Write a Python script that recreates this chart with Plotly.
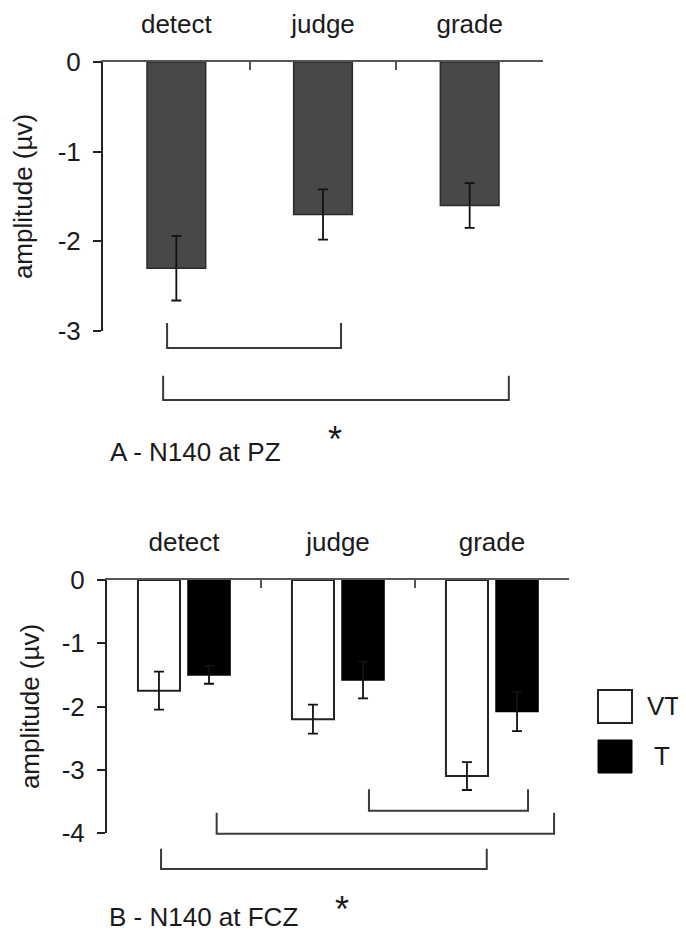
import plotly.graph_objects as go

# ---------------- data ----------------
conditions = ["detect", "judge", "grade"]
pz_mean = [-2.3, -1.7, -1.6]
pz_err = [0.36, 0.28, 0.25]
fcz_vt_mean = [-1.75, -2.2, -3.1]
fcz_vt_err = [0.30, 0.23, 0.22]
fcz_t_mean = [-1.5, -1.58, -2.08]
fcz_t_err = [0.14, 0.29, 0.31]
series_names = ["VT", "T"]
top_ticks = [0, -1, -2, -3]
top_ticktext = ["0", "-1", "-2", "-3"]
bottom_ticks = [0, -1, -2, -3, -4]
bottom_ticktext = ["0", "-1", "-2", "-3", "-4"]
caption_a = "A - N140 at PZ"
caption_b = "B - N140 at FCZ"

# ---------------- layout geometry ----------------
PAGE_W, PAGE_H = 686, 934
OFF = 8  # default page body margin
W, H = PAGE_W - OFF, PAGE_H - OFF
FONT = "Liberation Sans, Arial, sans-serif"
TXT = "#1a1a1a"


def fx(px):
    return (px - OFF) / W


def fy(py):
    return 1 - (py - OFF) / H


top_xdom = [fx(103), fx(543)]
top_ydom = [fy(331), fy(62)]
bot_xdom = [fx(107), fx(569)]
bot_ydom = [fy(833), fy(580)]
top_rng = [-3, 0]
bot_rng = [-4, 0]


def paper_y(v, dom, rng):
    return dom[0] + (v - rng[0]) / (rng[1] - rng[0]) * (dom[1] - dom[0])


fig = go.Figure()

fig.add_trace(go.Bar(
    x=conditions, y=pz_mean, width=0.4,
    marker=dict(color="#484848", line=dict(color="#2a2a2a", width=1.5)),
    error_y=dict(type="data", array=pz_err, color="#111111", thickness=1.8, width=5),
    xaxis="x", yaxis="y", showlegend=False,
))
fig.add_trace(go.Bar(
    name=series_names[0], x=conditions, y=fcz_vt_mean,
    marker=dict(color="white", line=dict(color="#222222", width=2)),
    error_y=dict(type="data", array=fcz_vt_err, color="#111111", thickness=1.8, width=5),
    xaxis="x2", yaxis="y2", showlegend=False,
))
fig.add_trace(go.Bar(
    name=series_names[1], x=conditions, y=fcz_t_mean,
    marker=dict(color="black", line=dict(color="black", width=1.5)),
    error_y=dict(type="data", array=fcz_t_err, color="#111111", thickness=1.8, width=5),
    xaxis="x2", yaxis="y2", showlegend=False,
))

xcommon = dict(
    type="category", side="top", range=[-0.5, 2.5], showline=True, automargin=False,
    linecolor="#555555", linewidth=2, ticks="inside", tickson="boundaries",
    ticklen=8, tickwidth=2, tickcolor="#555555", showgrid=False, zeroline=False,
    tickfont=dict(family=FONT, size=26, color=TXT), ticklabelstandoff=17,
)
ycommon = dict(
    showline=True, linecolor="#222222", linewidth=2, ticks="outside", ticklen=8,
    tickwidth=2, tickcolor="#222222", showgrid=False, zeroline=False, automargin=False,
    tickfont=dict(family=FONT, size=26, color=TXT), ticklabelstandoff=7,
)

fig.update_layout(
    template="none",
    width=W, height=H, autosize=False,
    margin=dict(l=0, r=0, t=0, b=0, pad=0, autoexpand=False),
    paper_bgcolor="white", plot_bgcolor="white",
    font=dict(family=FONT, size=26, color=TXT),
    barmode="group", bargap=0.35, bargroupgap=0.16,
    showlegend=False,
    xaxis=dict(domain=top_xdom, anchor="y", **xcommon),
    yaxis=dict(domain=top_ydom, anchor="x", range=top_rng, tickvals=top_ticks, ticktext=top_ticktext,
               title=dict(text="amplitude (µv)", font=dict(family=FONT, size=26, color=TXT), standoff=21),
               **ycommon),
    xaxis2=dict(domain=bot_xdom, anchor="y2", **xcommon),
    yaxis2=dict(domain=bot_ydom, anchor="x2", range=bot_rng, tickvals=bottom_ticks, ticktext=bottom_ticktext,
                title=dict(text="amplitude (µv)", font=dict(family=FONT, size=26, color=TXT), standoff=15),
                **ycommon),
)

# significance brackets (x in category units, y in amplitude units)
top_brackets = [(-0.063, 1.123, -2.91, -3.19), (-0.09, 2.267, -3.50, -3.77)]
bot_brackets = [(1.201, 2.234, -3.31, -3.65), (0.212, 2.403, -3.68, -4.01), (-0.149, 1.966, -4.25, -4.57)]

shapes = []
for xref, dom, rng, brs in (("x", top_ydom, top_rng, top_brackets), ("x2", bot_ydom, bot_rng, bot_brackets)):
    for x0, x1, yt, yb in brs:
        pt = paper_y(yt, dom, rng)
        pb = paper_y(yb, dom, rng)
        shapes.append(dict(
            type="path", xref=xref, yref="paper",
            path=f"M {x0},{pt} L {x0},{pb} L {x1},{pb} L {x1},{pt}",
            line=dict(color="#3a3a3a", width=2),
        ))

# manual legend boxes
shapes.append(dict(type="rect", xref="paper", yref="paper", x0=fx(598), x1=fx(632),
                   y0=fy(723), y1=fy(690), fillcolor="white", line=dict(color="#222222", width=2)))
shapes.append(dict(type="rect", xref="paper", yref="paper", x0=fx(598), x1=fx(632),
                   y0=fy(773), y1=fy(740), fillcolor="black", line=dict(color="black", width=1)))
fig.update_layout(shapes=shapes)

annots = [
    dict(text=series_names[0], x=fx(645), y=fy(706), xref="paper", yref="paper",
         xanchor="left", yanchor="middle", showarrow=False,
         font=dict(family=FONT, size=26, color=TXT)),
    dict(text=series_names[1], x=fx(652), y=fy(756), xref="paper", yref="paper",
         xanchor="left", yanchor="middle", showarrow=False,
         font=dict(family=FONT, size=26, color=TXT)),
    dict(text=caption_a, x=-0.466, y=paper_y(-4.35, top_ydom, top_rng), xref="x", yref="paper",
         xanchor="left", yanchor="middle", showarrow=False,
         font=dict(family=FONT, size=26, color=TXT)),
    dict(text="*", x=1.082, y=paper_y(-4.21, top_ydom, top_rng), xref="x", yref="paper",
         xanchor="center", yanchor="middle", showarrow=False,
         font=dict(family=FONT, size=36, color=TXT)),
    dict(text=caption_b, x=-0.5, y=paper_y(-5.33, bot_ydom, bot_rng), xref="x2", yref="paper",
         xanchor="left", yanchor="middle", showarrow=False,
         font=dict(family=FONT, size=26, color=TXT)),
    dict(text="*", x=1.026, y=paper_y(-5.21, bot_ydom, bot_rng), xref="x2", yref="paper",
         xanchor="center", yanchor="middle", showarrow=False,
         font=dict(family=FONT, size=36, color=TXT)),
]
fig.update_layout(annotations=annots)

fig.write_html("out.html")
